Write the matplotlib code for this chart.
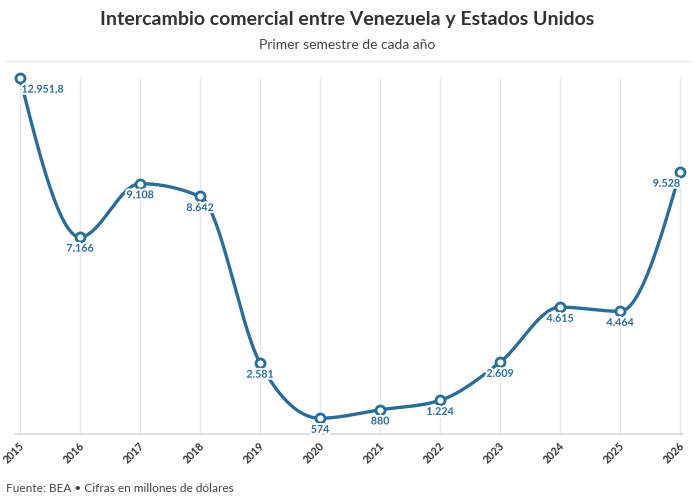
import numpy as np
import matplotlib
matplotlib.use("Agg")
import matplotlib.pyplot as plt
import matplotlib.patheffects as pe

years = [2015, 2016, 2017, 2018, 2019, 2020, 2021, 2022, 2023, 2024, 2025, 2026]
values = [12951.8, 7166, 9108, 8642, 2581, 574, 880, 1224, 2609, 4615, 4464, 9528]
labels = ["12.951,8", "7.166", "9.108", "8.642", "2.581", "574", "880", "1.224",
          "2.609", "4.615", "4.464", "9.528"]
title = "Intercambio comercial entre Venezuela y Estados Unidos"
subtitle = "Primer semestre de cada año"
footer = "Fuente: BEA • Cifras en millones de dólares"

BLUE = "#296d9a"
FONT = "Lato"


def monotone_curve(x, y, n=40):
    x = np.asarray(x, float)
    y = np.asarray(y, float)
    h = np.diff(x)
    s = np.diff(y) / h
    t = np.zeros_like(y)
    for i in range(1, len(x) - 1):
        p = (s[i - 1] * h[i] + s[i] * h[i - 1]) / (h[i - 1] + h[i])
        t[i] = (np.sign(s[i - 1]) + np.sign(s[i])) * min(abs(s[i - 1]), abs(s[i]), 0.5 * abs(p))
    t[0] = (3 * s[0] - t[1]) / 2
    t[-1] = (3 * s[-1] - t[-2]) / 2
    xs, ys = [], []
    for i in range(len(x) - 1):
        u = np.linspace(0, 1, n)
        h00 = 2 * u**3 - 3 * u**2 + 1
        h10 = u**3 - 2 * u**2 + u
        h01 = -2 * u**3 + 3 * u**2
        h11 = u**3 - u**2
        xs.append(x[i] + u * h[i])
        ys.append(h00 * y[i] + h10 * h[i] * t[i] + h01 * y[i + 1] + h11 * h[i] * t[i + 1])
    return np.concatenate(xs), np.concatenate(ys)


W, H = 695, 500
fig = plt.figure(figsize=(W / 100, H / 100), dpi=100)
fig.patch.set_facecolor("white")

left, right, top, base = 20, 680, 78, 434
ax = fig.add_axes([left / W, (H - base) / H, (right - left) / W, (base - top) / H])
ax.set_xlim(years[0], years[-1])
ax.set_ylim(0, max(values))
ax.axis("off")

# grid
for yr in years:
    ax.plot([yr, yr], [0, max(values)], color="#e6e6e6", lw=1, zorder=0, clip_on=False)
ax.plot([years[0] - 0.08, years[-1] + 0.05], [0, 0], color="#dcdcdc", lw=1.3, zorder=1, clip_on=False)

cx, cy = monotone_curve(years, values)
ax.plot(cx, cy, color=BLUE, lw=2.4, zorder=3, clip_on=False, solid_capstyle="round")
ax.plot(years, values, "o", ms=6.5, mfc="white", mec=BLUE, mew=2, zorder=4, clip_on=False)

halo = [pe.withStroke(linewidth=3, foreground="white")]
for i, (yr, v, lab) in enumerate(zip(years, values, labels)):
    if i == 0:
        ha, dx = "left", 1
    elif i == len(years) - 1:
        ha, dx = "right", 0
    else:
        ha, dx = "center", 0
    ax.annotate(lab, (yr, v), xytext=(dx, -8), textcoords="offset points",
                ha=ha, va="center", fontsize=7.7, fontweight="bold", color=BLUE,
                family=FONT, zorder=5, path_effects=halo, annotation_clip=False)

for yr in years:
    ax.annotate(str(yr), (yr, 0), xytext=(2, -7), textcoords="offset points",
                ha="right", va="center", rotation=45, rotation_mode="anchor",
                fontsize=7.7, fontweight="bold", color="#333333", family=FONT,
                annotation_clip=False)

fig.text(0.5, 1 - 19 / H, title, ha="center", va="center", fontsize=14,
         fontweight="bold", color="#333333", family=FONT)
fig.text(0.5, 1 - 45 / H, subtitle, ha="center", va="center", fontsize=10,
         color="#444444", family=FONT)
fig.add_artist(plt.Line2D([5 / W, 690 / W], [1 - 61 / H, 1 - 61 / H],
                          color="#e6e6e6", lw=1, transform=fig.transFigure))
fig.text(6 / W, 1 - 489 / H, footer, ha="left", va="center", fontsize=8.6,
         color="#444444", family=FONT)

fig.savefig("out.png", dpi=100, facecolor="white")
